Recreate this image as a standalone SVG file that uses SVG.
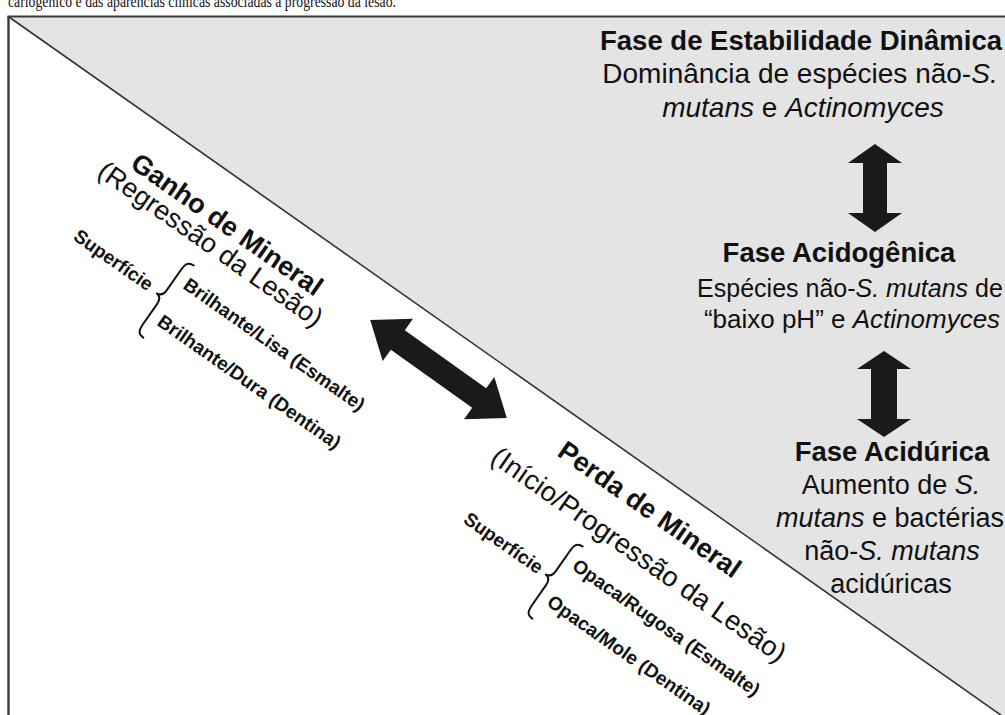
<svg xmlns="http://www.w3.org/2000/svg" width="1005" height="715" viewBox="0 0 1005 715">
  <style>
    .sans { font-family: "Liberation Sans", Arial, sans-serif; fill: #111; }
    .title { font-size: 27.5px; font-weight: bold; text-anchor: middle; }
    .body { font-size: 27px; text-anchor: middle; }
    .big { font-size: 27px; font-weight: bold; }
    .sub { font-size: 27px; }
    .small { font-size: 19px; font-weight: bold; }
    .brace { fill: none; stroke: #111; stroke-width: 2; stroke-linecap: round; }
    .arrow { fill: #1a1a1a; }
  </style>

  <rect width="1005" height="715" fill="#ffffff"/>

  <!-- caption line, clipped at the top edge -->
  <text x="8" y="7" font-family="'Liberation Serif', 'Times New Roman', serif" font-size="16.5" textLength="388" lengthAdjust="spacingAndGlyphs" fill="#111">cariogênico e das aparências clínicas associadas à progressão da lesão.</text>

  <!-- panel: shaded triangle above the diagonal, frame edges -->
  <g id="panel">
    <polygon points="9,17 1005,17 1005,718" fill="#e4e4e4"/>
    <line x1="9" y1="17" x2="1005" y2="718" stroke="#333" stroke-width="1.6"/>
    <line x1="7.5" y1="16.5" x2="1005" y2="16.5" stroke="#3a3a3a" stroke-width="2.2"/>
    <line x1="8.5" y1="16" x2="8.5" y2="715" stroke="#3a3a3a" stroke-width="2.4"/>
  </g>

  <!-- bacterial phases (right column) -->
  <g id="phase-stability" class="sans">
    <text class="title" x="801" y="50">Fase de Estabilidade Dinâmica</text>
    <text class="body" x="800" y="83" style="font-size:28px">Dominância de espécies não-<tspan font-style="italic">S.</tspan></text>
    <text class="body" x="803" y="117" style="font-size:28px"><tspan font-style="italic">mutans</tspan> e <tspan font-style="italic">Actinomyces</tspan></text>
  </g>

  <g id="phase-acidogenic" class="sans">
    <text class="title" x="839" y="262">Fase Acidogênica</text>
    <text class="body" x="850" y="297" style="font-size:25px">Espécies não-<tspan font-style="italic">S. mutans</tspan> de</text>
    <text class="body" x="852" y="328" style="font-size:26px">“baixo pH” e <tspan font-style="italic">Actinomyces</tspan></text>
  </g>

  <g id="phase-aciduric" class="sans">
    <text class="title" x="892" y="461">Fase Acidúrica</text>
    <text class="body" x="891" y="494">Aumento de <tspan font-style="italic">S.</tspan></text>
    <text class="body" x="890" y="527"><tspan font-style="italic">mutans</tspan> e bactérias</text>
    <text class="body" x="892" y="560">não-<tspan font-style="italic">S. mutans</tspan></text>
    <text class="body" x="891" y="593">acidúricas</text>
  </g>

  <!-- mineral gain (upper left, along the diagonal) -->
  <g id="mineral-gain" class="sans">
    <text class="big" transform="translate(129,167) rotate(35)">Ganho de Mineral</text>
    <text class="sub" transform="translate(96,175) rotate(35)">(Regressão da Lesão)</text>
    <g transform="translate(162,297) rotate(35)">
      <text class="small" x="-15" y="4" text-anchor="end">Superfície</text>
      <path class="brace" d="M8 -44 C1 -44 0 -40 0 -32 L0 -9 C0 -3 -2 0 -7 0 C-2 0 0 3 0 9 L0 32 C0 40 1 44 8 44"/>
      <text class="small" x="11" y="-19">Brilhante/Lisa (Esmalte)</text>
      <text class="small" x="11" y="26">Brilhante/Dura (Dentina)</text>
    </g>
  </g>

  <!-- mineral loss (lower middle, along the diagonal) -->
  <g id="mineral-loss" class="sans">
    <text class="big" transform="translate(556,455) rotate(35)">Perda de Mineral</text>
    <text class="sub" transform="translate(489,461) rotate(35)" style="font-size:27.5px">(Início/Progressão da Lesão)</text>
    <g transform="translate(551,578) rotate(35)">
      <text class="small" x="-13" y="5" text-anchor="end">Superfície</text>
      <path class="brace" d="M8 -44 C1 -44 0 -40 0 -32 L0 -9 C0 -3 -2 0 -7 0 C-2 0 0 3 0 9 L0 32 C0 40 1 44 8 44"/>
      <text class="small" x="11" y="-19">Opaca/Rugosa (Esmalte)</text>
      <text class="small" x="11" y="25">Opaca/Mole (Dentina)</text>
    </g>
  </g>

  <!-- double-headed arrows -->
  <g id="connectors">
    <polygon class="arrow" transform="translate(875,188)" points="0,-44 27,-25 12,-25 12,25 27,25 0,44 -27,25 -12,25 -12,-25 -27,-25"/>
    <polygon class="arrow" transform="translate(884,394)" points="0,-43 27,-25 13,-25 13,25 27,25 0,43 -27,25 -13,25 -13,-25 -27,-25"/>
    <polygon class="arrow" transform="translate(438.5,369) rotate(35.6)" points="-84,0 -50,-26 -50,-12 50,-12 50,-26 84,0 50,26 50,12 -50,12 -50,26"/>
  </g>
</svg>
